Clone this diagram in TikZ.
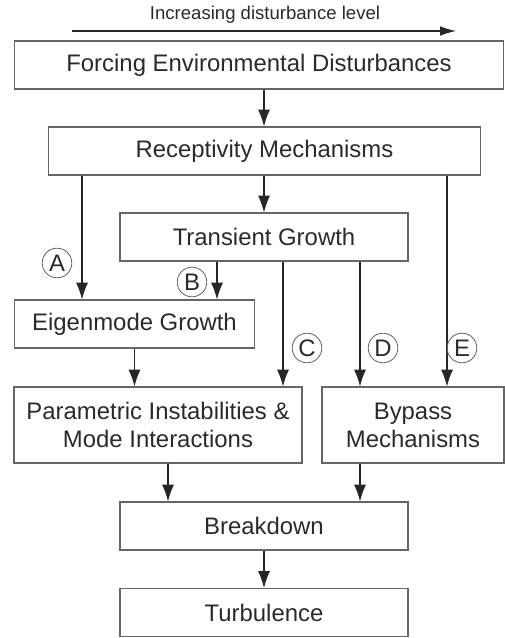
\documentclass[tikz,border=0pt]{standalone}
\usepackage{fontspec}
\setmainfont{Liberation Sans}
\usepackage{xcolor}
\usetikzlibrary{arrows.meta}
\usetikzlibrary{positioning}

\definecolor{txtgray}{HTML}{2a2a2a}
\definecolor{boxgray}{HTML}{666666}

\begin{document}
\begin{tikzpicture}[x=0.025cm,y=-0.025cm]
	%\draw[help lines] (0,0) grid (505,638);
	
	\tikzstyle{bnode} = [draw=boxgray,line width=0.8pt,text=txtgray,align=center,inner sep=0pt,font=\fontsize{17}{20}\selectfont]
	\tikzstyle{lnode} = [circle,draw=boxgray,line width=0.6pt,text=txtgray,minimum size=0.74cm,inner sep=0pt,font=\fontsize{17}{20}\selectfont]
	\tikzstyle{tedge} = [-{Latex[length=0.42cm,width=0.3cm]},line width=0.8pt,draw=black!85,fill=black!85]
	
\useasboundingbox (0,0) rectangle (505,638);

\node[text=txtgray,font=\fontsize{13.2}{15}\selectfont] (title) at (265,15) {Increasing disturbance level};
\coordinate (t1) at (72,31);
\coordinate (t2) at (456,31);
\draw[-{Latex[length=0.4cm,width=0.24cm]},line width=0.8pt,black!85] (t1) -- (t2);

\node[bnode,minimum width=12.22cm,minimum height=1.2cm] (force) at (259,65) {Forcing Environmental Disturbances};
\node[bnode,minimum width=10.78cm,minimum height=1.2cm] (recep) at (264.5,151) {Receptivity Mechanisms};
\node[bnode,minimum width=7.2cm,minimum height=1.2cm] (trans) at (264,237) {Transient Growth};
\node[bnode,minimum width=5.98cm,minimum height=1.2cm] (eigen) at (134.5,324) {Eigenmode Growth};
\node[bnode,minimum width=7.2cm,minimum height=1.9cm] (param) at (158,425) {Parametric Instabilities \&\\Mode Interactions};
\node[bnode,minimum width=4.55cm,minimum height=1.9cm] (bypass) at (413,425) {Bypass\\Mechanisms};
\node[bnode,minimum width=7.2cm,minimum height=1.2cm] (brk) at (264,526) {Breakdown};
\node[bnode,minimum width=7.2cm,minimum height=1.2cm] (turb) at (264,612.5) {Turbulence};

\coordinate (xA) at (82,0);
\coordinate (xB) at (217,0);
\coordinate (xC) at (283,0);
\coordinate (xD) at (360,0);
\coordinate (xE) at (447,0);
\coordinate (xM) at (264,0);
\coordinate (xP) at (168,0);

\draw[tedge] (force.south -| xM) -- (recep.north -| xM);
\draw[tedge] (recep.south -| xM) -- (trans.north -| xM);
\draw[tedge] (recep.south -| xA) -- (eigen.north -| xA);
\draw[tedge] (recep.south -| xE) -- (bypass.north -| xE);
\draw[tedge] (trans.south -| xB) -- (eigen.north -| xB);
\draw[tedge] (trans.south -| xC) -- (param.north -| xC);
\draw[tedge] (trans.south -| xD) -- (bypass.north -| xD);
\draw[tedge] (eigen.south) -- (eigen.south |- param.north);
\draw[tedge] (param.south -| xP) -- (brk.north -| xP);
\draw[tedge] (bypass.south -| xD) -- (brk.north -| xD);
\draw[tedge] (brk.south -| xM) -- (turb.north -| xM);

\node[lnode] (la) at (57,263) {A};
\node[lnode] (lb) at (192,282) {B};
\node[lnode] (lc) at (307,348) {C};
\node[lnode] (ld) at (383,348) {D};
\node[lnode] (le) at (462,348) {E};
\end{tikzpicture}
\end{document}
